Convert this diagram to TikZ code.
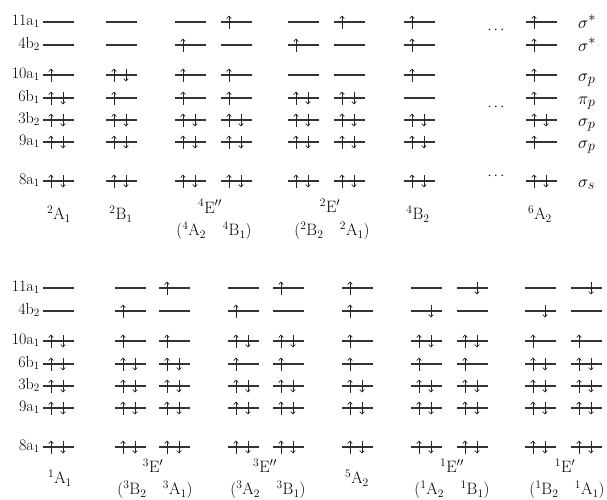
\documentclass[tikz,border=0pt]{standalone}
\usepackage{fontspec}
\usetikzlibrary{arrows.meta}
\newcommand\spinO[2]{}
\newcommand\spinU[2]{\draw[spin] (#1+8,#2+6.5) -- (#1+8,#2-6.5);}
\newcommand\spinD[2]{\draw[spin] (#1+20,#2-6.5) -- (#1+20,#2+6.5);}
\newcommand\spinP[2]{\spinU{#1}{#2}\spinD{#1}{#2}}
\newcommand\term[3]{\textsuperscript{#1}#2\textsubscript{#3}}
% #1 left x, #2 y of top level, #3 list of seven occupations (top to bottom)
\newcommand\orbcol[3]{%
  \foreach \c [count=\i] in {#3} {%
    \pgfmathsetmacro\yy{#2+{0,23,53,76,98,120,159}[\i-1]}%
    \draw[lvl] (#1,\yy) -- (#1+31,\yy);
    \csname spin\c\endcsname{#1}{\yy}%
  }}
\begin{document}
\begin{tikzpicture}[x=1pt,y=-1pt,
  lvl/.style={line width=1.2pt,draw=black!80},
  spin/.style={line width=0.7pt,draw=black!85,-{Straight Barb[length=2.5pt,width=4.5pt]}},
  txt/.style={inner sep=0pt,font=\fontsize{16.5}{19}\selectfont},
  rowlab/.style={inner sep=0pt,anchor=base east,font=\fontsize{16}{19}\selectfont},
  mo/.style={inner sep=0pt,anchor=base west,font=\fontsize{19}{22}\selectfont},
  dots/.style={inner sep=0pt,anchor=base,font=\fontsize{15}{18}\selectfont}]
\useasboundingbox (0,0) rectangle (607,499);
% ---------- row labels ----------
\foreach \lab [count=\i] in {11a\textsubscript{1},4b\textsubscript{2},10a\textsubscript{1},6b\textsubscript{1},3b\textsubscript{2},9a\textsubscript{1},8a\textsubscript{1}} {
  \pgfmathsetmacro\dy{{0,23,53,76,98,120,159}[\i-1]}
  \node[rowlab] (rt\i) at (40,22+\dy+3) {\lab};
  \node[rowlab] (rb\i) at (40,288+\dy+3) {\lab};
}
% ---------- top panel ----------
\orbcol{43}{22}{O,O,U,P,P,P,P}
\orbcol{106}{22}{O,O,P,U,P,P,P}
\orbcol{175}{22}{O,U,U,U,P,P,P}
\orbcol{221}{22}{U,O,U,U,P,P,P}
\orbcol{288}{22}{O,U,O,P,P,P,P}
\orbcol{334}{22}{U,O,O,P,P,P,P}
\orbcol{404}{22}{U,U,U,O,P,P,P}
\orbcol{526}{22}{U,U,U,U,P,U,P}
\node[dots] (d1) at (496,33) {$\cdots$};
\node[dots] (d2) at (496,110) {$\cdots$};
\node[dots] (d3) at (496,179) {$\cdots$};
\node[mo] (m1) at (578,22+6) {$\sigma^*$};
\node[mo] (m2) at (578,45+6) {$\sigma^*$};
\node[mo] (m3) at (578,75+6) {$\sigma_p$};
\node[mo] (m4) at (578,98+6) {$\pi_p$};
\node[mo] (m5) at (578,120+6) {$\sigma_p$};
\node[mo] (m6) at (578,142+6) {$\sigma_p$};
\node[mo] (m7) at (578,181+6) {$\sigma_s$};
\node[txt] (t1) at (59,214) {\term{2}{A}{1}};
\node[txt] (t2) at (121,214) {\term{2}{B}{1}};
\node[txt] (t3) at (210,206) {\textsuperscript{4}E$''$};
\node[txt] (t3b) at (214,231) {(\term{4}{A}{2}\quad\term{4}{B}{1})};
\node[txt] (t4) at (330,206) {\textsuperscript{2}E$'$};
\node[txt] (t4b) at (332,231) {(\term{2}{B}{2}\quad\term{2}{A}{1})};
\node[txt] (t5) at (418,214) {\term{4}{B}{2}};
\node[txt] (t6) at (540,214) {\term{6}{A}{2}};
% ---------- bottom panel ----------
\orbcol{43}{288}{O,O,P,P,P,P,P}
\orbcol{115}{288}{O,U,U,P,P,P,P}
\orbcol{159}{288}{U,O,U,P,P,P,P}
\orbcol{228}{288}{O,U,P,U,P,P,P}
\orbcol{273}{288}{U,O,P,U,P,P,P}
\orbcol{342}{288}{U,U,U,U,P,P,P}
\orbcol{411}{288}{O,D,P,U,P,P,P}
\orbcol{457}{288}{D,O,P,U,P,P,P}
\orbcol{525}{288}{O,D,U,P,P,P,P}
\orbcol{571}{288}{D,O,U,P,P,P,P}
\node[txt] (b1) at (60,478) {\term{1}{A}{1}};
\node[txt] (b2) at (153,466) {\textsuperscript{3}E$'$};
\node[txt] (b2b) at (155,490) {(\term{3}{B}{2}\quad\term{3}{A}{1})};
\node[txt] (b3) at (265,466) {\textsuperscript{3}E$''$};
\node[txt] (b3b) at (268,490) {(\term{3}{A}{2}\quad\term{3}{B}{1})};
\node[txt] (b4) at (357,478) {\term{5}{A}{2}};
\node[txt] (b5) at (452,466) {\textsuperscript{1}E$''$};
\node[txt] (b5b) at (452,490) {(\term{1}{A}{2}\quad\term{1}{B}{1})};
\node[txt] (b6) at (565,466) {\textsuperscript{1}E$'$};
\node[txt] (b6b) at (567,490) {(\term{1}{B}{2}\quad\term{1}{A}{1})};
\end{tikzpicture}
\end{document}
